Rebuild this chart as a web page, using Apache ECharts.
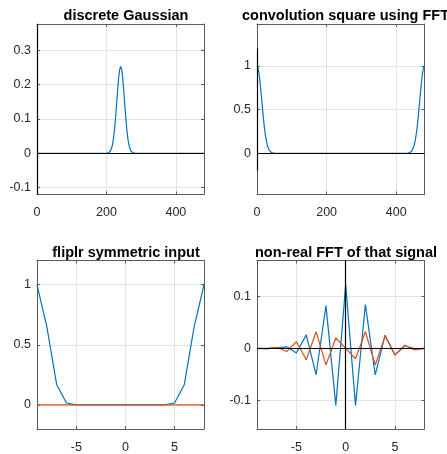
<!DOCTYPE html>
<html><head><meta charset="utf-8">
<script src="https://cdn.jsdelivr.net/npm/echarts@6/dist/echarts.min.js"></script>
<style>html,body{margin:0;padding:0;background:#fff}#c{width:447px;height:454px}</style>
</head><body><div id="c"></div>
<script>
// Panel 1: discrete Gaussian
const gaussX = [0, 199, 202, 205, 208, 211, 214, 217, 220, 223, 226, 229, 232, 235, 238, 241, 244, 247, 250, 253, 256, 259, 262, 265, 268, 271, 274, 277, 280, 283, 481];
const gaussY = [0, 0, 0.0004, 0.0012, 0.0028, 0.0061, 0.0124, 0.0234, 0.0409, 0.0663, 0.0999, 0.1395, 0.181, 0.218, 0.2438, 0.253, 0.2438, 0.218, 0.181, 0.1395, 0.0999, 0.0663, 0.0409, 0.0234, 0.0124, 0.0061, 0.0028, 0.0012, 0.0004, 0, 0];
// Panel 2: convolution square using FFT
const convX = [0, 3, 6, 9, 12, 15, 18, 21, 24, 27, 30, 33, 36, 39, 42, 45, 48, 51, 54,
               427, 430, 433, 436, 439, 442, 445, 448, 451, 454, 457, 460, 463, 466, 469, 472, 475, 478, 481];
const convY = [1, 0.976, 0.907, 0.803, 0.678, 0.544, 0.417, 0.304, 0.211, 0.139, 0.088, 0.0527, 0.0301, 0.0164, 0.0085, 0.0042, 0.0020, 0.0009, 0,
               0, 0.0009, 0.0020, 0.0042, 0.0085, 0.0164, 0.0301, 0.0527, 0.088, 0.139, 0.211, 0.304, 0.417, 0.544, 0.678, 0.803, 0.907, 0.976, 1];
// Panel 3: fliplr symmetric input
const symX = [-9, -8, -7, -6, -5, -4, -3, -2, -1, 0, 1, 2, 3, 4, 5, 6, 7, 8];
const symRe = [1, 0.65, 0.17, 0.016, 0.001, 0, 0, 0, 0, 0, 0, 0, 0, 0.001, 0.016, 0.17, 0.65, 1];
const symIm = [0, 0, 0, 0, 0, 0, 0, 0, 0, 0, 0, 0, 0, 0, 0, 0, 0, 0];
// Panel 4: non-real FFT of that signal
const fftX = [-9, -8, -7, -6, -5, -4, -3, -2, -1, 0, 1, 2, 3, 4, 5, 6, 7, 8];
const fftRe = [0, 0, 0.001, 0.003, -0.009, 0.026, -0.051, 0.0825, -0.110, 0.1225, -0.110, 0.0845, -0.051, 0.0254, -0.0127, 0.005, -0.001, 0];
const fftIm = [0, -0.001, 0.002, -0.006, 0.013, -0.022, 0.032, -0.032, 0.020, 0, -0.020, 0.032, -0.032, 0.024, -0.013, 0.006, -0.003, 0];

const titles = ['discrete Gaussian', 'convolution square using FFT', 'fliplr symmetric input', 'non-real FFT of that signal'];
const xTicks = [[0, 200, 400], [0, 200, 400], [-5, 0, 5], [-5, 0, 5]];
const yTicks = [[-0.1, 0, 0.1, 0.2, 0.3], [0, 0.5, 1], [0, 0.5, 1], [-0.1, 0, 0.1]];
const xLims = [[0, 481], [0, 481], [-9, 8], [-9, 8]];
const yLims = [[-0.12, 0.377], [-0.471, 1.479], [-0.2, 1.2], [-0.1556, 0.1695]];

const BLUE = '#0072BD', ORANGE = '#D95319';
const FONT = 'Liberation Sans, Arial, sans-serif';
const grids = [
  {left: 37, right: 243, top: 24, bottom: 259.5},
  {left: 257, right: 22.5, top: 24, bottom: 259.5},
  {left: 37, right: 243, top: 260.5, bottom: 23},
  {left: 257, right: 22.5, top: 260.5, bottom: 23}
];
const titleCenters = [[121, 3], [340.5, 3], [121, 240], [341, 240]];

const edge = '#5a5a5a';
const xAxes = [], yAxes = [];
grids.forEach((g, i) => {
  const fmt = v => (Math.abs(v) < 1e-9 ? '0' : String(+v.toFixed(3)));
  xAxes.push({type: 'value', gridIndex: i, position: 'bottom', min: xLims[i][0], max: xLims[i][1],
    axisLine: {show: true, onZero: false, lineStyle: {color: edge, width: 1}},
    axisTick: {show: true, inside: true, length: 3, customValues: xTicks[i], lineStyle: {color: edge}},
    axisLabel: {show: true, customValues: xTicks[i], margin: 12, color: '#262626', fontSize: 12.5, fontFamily: FONT, formatter: fmt},
    splitLine: {show: true, lineStyle: {color: '#e3e3e3', width: 1}}});
  xAxes.push({type: 'value', gridIndex: i, position: 'top', min: xLims[i][0], max: xLims[i][1],
    axisLine: {show: true, onZero: false, lineStyle: {color: edge, width: 1}},
    axisTick: {show: true, inside: true, length: 3, customValues: xTicks[i], lineStyle: {color: edge}},
    axisLabel: {show: false}, splitLine: {show: false}});
  yAxes.push({type: 'value', gridIndex: i, position: 'left', min: yLims[i][0], max: yLims[i][1],
    axisLine: {show: true, onZero: false, lineStyle: {color: edge, width: 1}},
    axisTick: {show: true, inside: true, length: 3, customValues: yTicks[i], lineStyle: {color: edge}},
    axisLabel: {show: true, customValues: yTicks[i], margin: 6, color: '#262626', fontSize: 12.5, fontFamily: FONT, formatter: fmt},
    splitLine: {show: true, lineStyle: {color: '#e3e3e3', width: 1}}});
  yAxes.push({type: 'value', gridIndex: i, position: 'right', min: yLims[i][0], max: yLims[i][1],
    axisLine: {show: true, onZero: false, lineStyle: {color: edge, width: 1}},
    axisTick: {show: true, inside: true, length: 3, customValues: yTicks[i], lineStyle: {color: edge}},
    axisLabel: {show: false}, splitLine: {show: false}});
});

const zip = (xs, ys) => xs.map((x, k) => [x, ys[k]]);
const line = (i, xs, ys, color, z) => ({type: 'line', xAxisIndex: 2 * i, yAxisIndex: 2 * i, data: zip(xs, ys),
  showSymbol: false, symbol: 'none', lineStyle: {color: color, width: 1.2}, z: z || 2, animation: false, clip: true});
const blackLines = (i, marks) => ({type: 'line', xAxisIndex: 2 * i, yAxisIndex: 2 * i, data: [], z: 5,
  markLine: {silent: true, symbol: 'none', animation: false, label: {show: false},
    lineStyle: {color: '#000', type: 'solid', width: 1.2}, data: marks}});

const series = [
  line(0, gaussX, gaussY, BLUE),
  blackLines(0, [{yAxis: 0}, {xAxis: 0}]),
  line(1, convX, convY, BLUE),
  blackLines(1, [{yAxis: 0}, [{coord: [0, -0.2]}, {coord: [0, 1.2]}]]),
  line(2, symX, symRe, BLUE),
  line(2, symX, symIm, ORANGE, 3),
  line(3, fftX, fftRe, BLUE),
  line(3, fftX, fftIm, ORANGE, 3),
  blackLines(3, [{yAxis: 0}, {xAxis: 0}])
];

const chart = echarts.init(document.getElementById('c'), null, {renderer: 'canvas'});
chart.setOption({
  animation: false,
  backgroundColor: '#fff',
  title: titles.map((t, i) => ({text: t, left: titleCenters[i][0], top: titleCenters[i][1], textAlign: 'center',
    textStyle: {fontSize: 14.5, fontWeight: 'bold', color: '#000', fontFamily: FONT}})),
  grid: grids,
  xAxis: xAxes,
  yAxis: yAxes,
  series: series
});
</script></body></html>
